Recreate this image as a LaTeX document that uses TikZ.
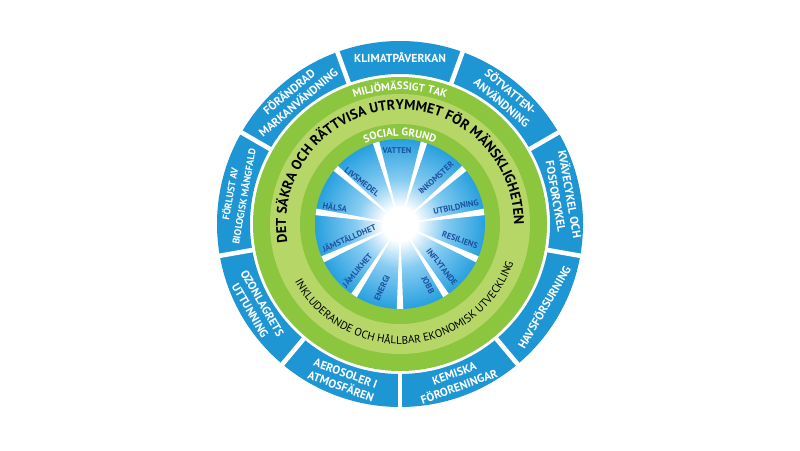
\documentclass[tikz,border=0pt]{standalone}
\usepackage{fontspec}
\setmainfont{PT Sans}
\usetikzlibrary{decorations.text}
\definecolor{ringblue}{RGB}{31,150,212}
\definecolor{greendark}{RGB}{140,198,63}
\definecolor{greenlight}{RGB}{182,214,104}
\definecolor{discblue}{RGB}{40,160,222}
\definecolor{discmid}{RGB}{135,204,242}
\definecolor{labelblue}{RGB}{28,82,160}
\pgfdeclareradialshading{discglow}{\pgfpointorigin}{color(0bp)=(white); color(5bp)=(white); color(13bp)=(discmid); color(25bp)=(discblue); color(50bp)=(discblue)}
\tikzset{
	boundary/.style={white,font=\fontsize{6.6}{8}\selectfont\bfseries,align=center,inner sep=0pt},
	dimension/.style={labelblue,font=\fontsize{4.8}{5}\selectfont\bfseries,inner sep=0pt},
}
\begin{document}
\begin{tikzpicture}[x=0.02cm,y=0.02cm]
	\useasboundingbox (0,0) rectangle (800,450);
	\coordinate (c) at (400,226);
	\fill[ringblue,even odd rule] (c) circle[radius=183] (c) circle[radius=150];
	\foreach \a in {-90,-50,...,230}
		\draw[white,line width=2.6pt] ([shift={(c)}]\a:145) -- ([shift={(c)}]\a:188);
	\fill[greendark] (c) circle[radius=147];
	\fill[greenlight] (c) circle[radius=130];
	\fill[greendark] (c) circle[radius=100];
	\shade[shading=discglow] (c) circle[radius=85];
	\foreach \k [evaluate=\k as \b using -90+\k*360/11] in {0,...,10}
		\fill[white] (c) -- ([shift={(c)}]\b-2.2:85) -- ([shift={(c)}]\b+2.2:85) -- cycle;
	% planetary boundaries
	\node[boundary] (klimat) at ([shift={(c)}]90:166) {KLIMATPÅVERKAN};
	\node[boundary,rotate=-40] (sotvatten) at ([shift={(c)}]50:166) {SÖTVATTEN-\\ANVÄNDNING};
	\node[boundary,rotate=-80] (kvave) at ([shift={(c)}]10:166) {KVÄVECYKEL OCH\\FOSFORCYKEL};
	\node[boundary,rotate=60] (hav) at ([shift={(c)}]-30:166) {HAVSFÖRSURNING};
	\node[boundary,rotate=20] (kemiska) at ([shift={(c)}]-70:166) {KEMISKA\\FÖRORENINGAR};
	\node[boundary,rotate=-20] (aerosoler) at ([shift={(c)}]-110:166) {AEROSOLER I\\ATMOSFÄREN};
	\node[boundary,rotate=-60] (ozon) at ([shift={(c)}]-150:166) {OZONLAGRETS\\UTTUNNING};
	\node[boundary,rotate=80,font=\fontsize{5.6}{8}\selectfont\bfseries] (biologisk) at ([shift={(c)}]170:166) {FÖRLUST AV\\BIOLOGISK MÅNGFALD};
	\node[boundary,rotate=40] (mark) at ([shift={(c)}]130:166) {FÖRÄNDRAD\\MARKANVÄNDNING};
	% ring texts
	\path[decorate,decoration={text along path,text align=center,
		text={|\fontsize{6.2}{6}\selectfont\bfseries\color{white}|MILJÖMÄSSIGT TAK}}]
		([shift={(c)}]140:134) arc[start angle=140,end angle=40,radius=134];
	\path[decorate,decoration={text along path,text align=center,
		text={|\fontsize{8}{8}\selectfont\bfseries|DET SÄKRA OCH RÄTTVISA UTRYMMET FÖR MÄNSKLIGHETEN}}]
		([shift={(c)}]205:114) arc[start angle=205,end angle=-16,radius=114];
	\path[decorate,decoration={text along path,text align=center,
		text={|\fontsize{6.3}{6}\selectfont|INKLUDERANDE OCH HÅLLBAR EKONOMISK UTVECKLING}}]
		([shift={(c)}]195:120) arc[start angle=195,end angle=355,radius=120];
	\path[decorate,decoration={text along path,text align=center,
		text={|\fontsize{6.2}{6}\selectfont\bfseries\color{white}|SOCIAL GRUND}}]
		([shift={(c)}]150:88) arc[start angle=150,end angle=30,radius=88];
	% social foundation
	\node[dimension] (vatten) at (397,299) {VATTEN};
	\node[dimension,rotate=42] (inkomster) at (436,272) {INKOMSTER};
	\node[dimension,rotate=12] (utbildning) at (456,243) {UTBILDNING};
	\node[dimension,rotate=-20] (resiliens) at (460,210) {RESILIENS};
	\node[dimension,rotate=-52] (inflytande) at (442,183) {INFLYTANDE};
	\node[dimension,rotate=-62] (jobb) at (428,165) {JOBB};
	\node[dimension,rotate=65] (energi) at (382,162) {ENERGI};
	\node[dimension,rotate=50] (jamlikhet) at (357,180) {JÄMLIKHET};
	\node[dimension,rotate=23] (jamstalldhet) at (349,212) {JÄMSTÄLLDHET};
	\node[dimension,rotate=-10] (halsa) at (335,243) {HÄLSA};
	\node[dimension,rotate=-38] (livsmedel) at (362,268) {LIVSMEDEL};
\end{tikzpicture}
\end{document}
